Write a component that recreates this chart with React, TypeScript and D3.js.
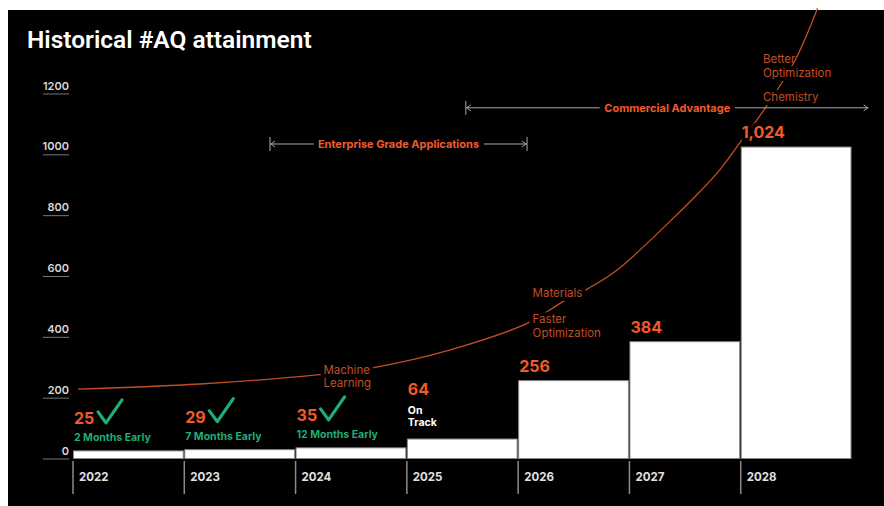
import React from "react";
import * as d3 from "d3";

const years = ["2022", "2023", "2024", "2025", "2026", "2027", "2028"];
const values = [25, 29, 35, 64, 256, 384, 1024];
const valueLabels = ["25", "29", "35", "64", "256", "384", "1,024"];
const earlyNotes = ["2 Months Early", "7 Months Early", "12 Months Early", "", "", "", ""];
const trackNotes = ["", "", "", "On|Track", "", "", ""];
const yTicks = [0, 200, 400, 600, 800, 1000, 1200];

// growth curve, x in year-index units, y in #AQ units
const curveX = [0.045, 1.14, 2.19, 2.69, 3.39, 4.11, 4.38, 4.62, 4.89, 5.36, 5.63, 5.81, 5.99, 6.22, 6.49, 6.69];
const curveY = [228, 245, 275, 298, 357, 449, 511, 557, 620, 778, 876, 948, 1037, 1152, 1310, 1480];

// curve labels
const curveLabelX = [2.25, 2.25, 4.13, 4.13, 4.13, 6.2, 6.2, 6.2];
const curveLabelY = [278, 234, 532, 447, 401, 1300, 1254, 1174];
const curveLabelText = ["Machine", "Learning", "Materials", "Faster", "Optimization", "Better", "Optimization", "Chemistry"];
const curveLabelHalo = [true, true, true, true, true, false, true, true];

// span annotations
const spanNames = ["Enterprise Grade Applications", "Commercial Advantage"];
const spanStart = [1.77, 3.53];
const spanEnd = [4.08, 7.15];
const spanValue = [1034, 1153];
const spanEndBar = [true, false];

const W = 884;
const H = 506;
const ORANGE = "#f15a2b";
const CURVE = "#c24d27";
const GREEN = "#1fae74";
const FONT = "Inter, 'Open Sans', sans-serif";

export default function App() {
  const x = d3.scaleBand<string>().domain(years).range([73, 852]).paddingInner(0);
  const xi = d3.scaleLinear().domain([0, 7]).range([73, 852]);
  const y = d3.scaleLinear().domain([0, 1200]).range([458.5, 93.5]);
  const step = x.step();

  const line = d3
    .line<number>()
    .x((_, i) => xi(curveX[i]))
    .y((_, i) => y(curveY[i]))
    .curve(d3.curveCatmullRom.alpha(0.5));

  const halo = { stroke: "#000", strokeWidth: 8, paintOrder: "stroke" as const, strokeLinejoin: "round" as const };

  return (
    <svg
      width={W}
      height={H}
      style={{ position: "absolute", left: 0, top: 0, background: "#fff", fontFamily: FONT }}
    >
      <rect x={8} y={10} width={W - 8} height={H - 10} fill="#000" />
      <text x={27} y={48} fill="#fff" fontSize={24.5} fontWeight={600} style={{ fontFamily: "Roboto, Inter, sans-serif" }}>
        Historical #AQ attainment
      </text>

      {/* y axis */}
      {yTicks.map((t) => (
        <g key={t}>
          <line x1={43} x2={69} y1={y(t) + 0.5} y2={y(t) + 0.5} stroke="#777" strokeWidth={1} />
          <text x={69} y={y(t) - 4} textAnchor="end" fill="#d8d8d8" fontSize={11} fontWeight={600}>
            {t}
          </text>
        </g>
      ))}

      {/* bars */}
      {years.map((yr, i) => (
        <rect
          key={yr}
          x={(x(yr) as number) + 0.5}
          y={y(values[i])}
          width={step - 1.5}
          height={y(0) - y(values[i])}
          fill="#fff"
          stroke="#888"
          strokeWidth={1}
        />
      ))}

      {/* x axis */}
      {years.map((yr) => (
        <g key={yr}>
          <line x1={x(yr)} x2={x(yr)} y1={461} y2={494} stroke="#8a8a8a" strokeWidth={1.5} />
          <text x={(x(yr) as number) + 6} y={481} fill="#e0e0e0" fontSize={11.5} fontWeight={700}>
            {yr}
          </text>
        </g>
      ))}

      {/* growth curve */}
      <path d={line(curveX) || ""} fill="none" stroke={CURVE} strokeWidth={1.3} />

      {curveLabelText.map((t, i) => (
        <text
          key={i}
          x={xi(curveLabelX[i])}
          y={y(curveLabelY[i])}
          fill={CURVE}
          fontSize={11.5}
          style={curveLabelHalo[i] ? halo : undefined}
        >
          {t}
        </text>
      ))}

      {/* spans */}
      {spanNames.map((name, i) => {
        const x1 = xi(spanStart[i]);
        const x2 = xi(spanEnd[i]);
        const yy = y(spanValue[i]);
        return (
          <g key={name}>
            <line x1={x1} x2={x2} y1={yy} y2={yy} stroke="#a8a8a8" strokeWidth={1} />
            <line x1={x1} x2={x1} y1={yy - 7} y2={yy + 7} stroke="#a8a8a8" strokeWidth={1} />
            <path d={`M${x1 + 5},${yy - 3}L${x1 + 1},${yy}L${x1 + 5},${yy + 3}`} fill="none" stroke="#a8a8a8" />
            <path d={`M${x2 - 5},${yy - 3}L${x2 - 1},${yy}L${x2 - 5},${yy + 3}`} fill="none" stroke="#a8a8a8" />
            {spanEndBar[i] && <line x1={x2} x2={x2} y1={yy - 7} y2={yy + 7} stroke="#a8a8a8" strokeWidth={1} />}
            <text
              x={(x1 + x2) / 2}
              y={yy + 4}
              textAnchor="middle"
              fill={ORANGE}
              fontSize={11}
              fontWeight={700}
              style={{ ...halo, strokeWidth: 10 }}
            >
              {name}
            </text>
          </g>
        );
      })}

      {/* value labels */}
      {years.map((yr, i) => {
        const bx = (x(yr) as number) + 1;
        const top = y(values[i]);
        const hasEarly = earlyNotes[i] !== "";
        const hasTrack = trackNotes[i] !== "";
        let valueBase = top - 9;
        if (hasEarly) valueBase = top - 27;
        if (hasTrack) valueBase = top - 44;
        return (
          <g key={yr}>
            <text x={bx} y={valueBase} fill={ORANGE} fontSize={16} fontWeight={700} style={halo}>
              {valueLabels[i]}
            </text>
            {hasEarly && (
              <>
                <path
                  d={`M${bx + 24},${valueBase - 12}L${bx + 32},${valueBase - 1}L${bx + 48},${valueBase - 24}`}
                  fill="none"
                  stroke={GREEN}
                  strokeWidth={3.2}
                  strokeLinecap="round"
                  strokeLinejoin="round"
                />
                <text x={bx} y={top - 10} fill={GREEN} fontSize={10.5} fontWeight={700}>
                  {earlyNotes[i]}
                </text>
              </>
            )}
            {hasTrack &&
              trackNotes[i].split("|").map((s, k) => (
                <text key={k} x={bx} y={top - 25 + k * 12} fill="#fff" fontSize={10.5} fontWeight={700}>
                  {s}
                </text>
              ))}
          </g>
        );
      })}
    </svg>
  );
}
